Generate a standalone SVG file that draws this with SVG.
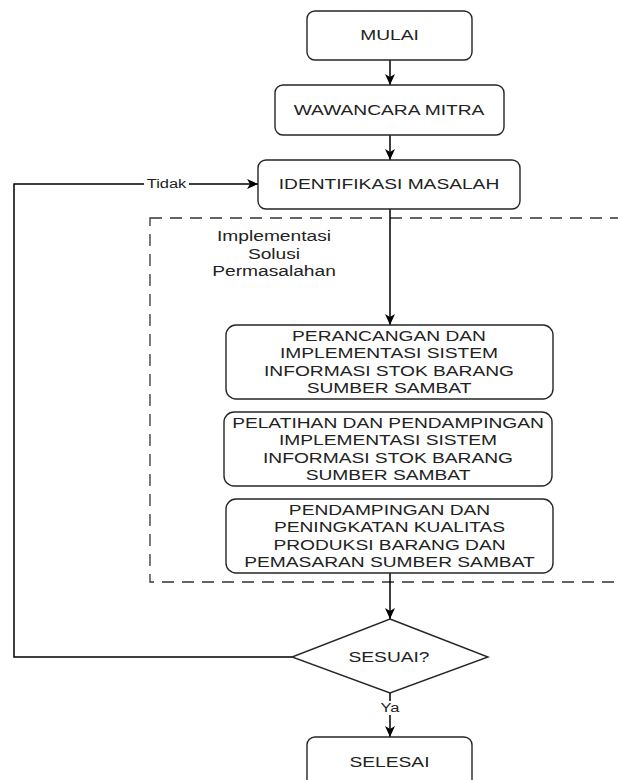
<svg xmlns="http://www.w3.org/2000/svg" width="618" height="780" viewBox="0 0 618 780">
<style>
.box{fill:#fff;stroke:#262626;stroke-width:1.4}
.t{font-family:"Liberation Sans",Arial,sans-serif;font-size:14px;fill:#222;text-anchor:middle}
.lbl{font-family:"Liberation Sans",Arial,sans-serif;font-size:12px;fill:#222;text-anchor:middle}
.con{fill:none;stroke:#000;stroke-width:1.5}
.grp{fill:none;stroke:#333;stroke-width:1.3;stroke-dasharray:12 8}
</style>
<defs>
<marker id="ah" viewBox="0 0 11 10" refX="11" refY="5" markerWidth="11" markerHeight="10" markerUnits="userSpaceOnUse" orient="auto">
<path d="M0,0 L11,5 L0,10 L3,5 Z" fill="#000"/>
</marker>
</defs>
<rect width="618" height="780" fill="#fff"/>

<g id="group-implementasi">
<rect class="grp" x="150" y="218" width="490" height="364"/>
<text class="t" transform="matrix(1.37 0 0 1 274 0)" x="0" y="241.5">Implementasi</text>
<text class="t" transform="matrix(1.37 0 0 1 274 0)" x="0" y="259">Solusi</text>
<text class="t" transform="matrix(1.37 0 0 1 274 0)" x="0" y="276.5">Permasalahan</text>
</g>

<g id="connectors">
<path class="con" d="M390,60 V85" marker-end="url(#ah)"/>
<path class="con" d="M390,135 V160" marker-end="url(#ah)"/>
<path class="con" d="M390,209 V325" marker-end="url(#ah)"/>
<path class="con" d="M390,573 V619" marker-end="url(#ah)"/>
<path class="con" d="M390,693 V737" marker-end="url(#ah)"/>
<path class="con" d="M292,657 H14 V184 H258" marker-end="url(#ah)"/>
<g id="label-tidak">
<rect x="144" y="177" width="45" height="14" fill="#fff"/>
<text class="lbl" transform="matrix(1.37 0 0 1 166.5 0)" x="0" y="188.3">Tidak</text>
</g>
<g id="label-ya">
<rect x="381" y="701" width="18" height="14" fill="#fff"/>
<text class="lbl" transform="matrix(1.37 0 0 1 390 0)" x="0" y="712">Ya</text>
</g>
</g>

<g id="mulai">
<rect class="box" x="307" y="11" width="165" height="49" rx="8"/>
<text class="t" transform="matrix(1.37 0 0 1 389.5 0)" x="0" y="40.5">MULAI</text>
</g>

<g id="wawancara">
<rect class="box" x="275" y="85" width="229" height="50" rx="8"/>
<text class="t" transform="matrix(1.37 0 0 1 389 0)" x="0" y="115">WAWANCARA MITRA</text>
</g>

<g id="identifikasi">
<rect class="box" x="258" y="160" width="262" height="49" rx="8"/>
<text class="t" transform="matrix(1.37 0 0 1 389 0)" x="0" y="189.5">IDENTIFIKASI MASALAH</text>
</g>

<g id="perancangan">
<rect class="box" x="226" y="325" width="327" height="74" rx="10"/>
<text class="t" transform="matrix(1.37 0 0 1 389 0)" x="0" y="340.6">PERANCANGAN DAN</text>
<text class="t" transform="matrix(1.37 0 0 1 389 0)" x="0" y="358.2">IMPLEMENTASI SISTEM</text>
<text class="t" transform="matrix(1.37 0 0 1 389 0)" x="0" y="375.8">INFORMASI STOK BARANG</text>
<text class="t" transform="matrix(1.37 0 0 1 389 0)" x="0" y="393.4">SUMBER SAMBAT</text>
</g>

<g id="pelatihan">
<rect class="box" x="224" y="412" width="328" height="74" rx="10"/>
<text class="t" transform="matrix(1.37 0 0 1 388 0)" x="0" y="427.6">PELATIHAN DAN PENDAMPINGAN</text>
<text class="t" transform="matrix(1.37 0 0 1 388 0)" x="0" y="445.2">IMPLEMENTASI SISTEM</text>
<text class="t" transform="matrix(1.37 0 0 1 388 0)" x="0" y="462.8">INFORMASI STOK BARANG</text>
<text class="t" transform="matrix(1.37 0 0 1 388 0)" x="0" y="480.4">SUMBER SAMBAT</text>
</g>

<g id="pendampingan">
<rect class="box" x="226" y="499" width="327" height="74" rx="10"/>
<text class="t" transform="matrix(1.37 0 0 1 389.5 0)" x="0" y="514.6">PENDAMPINGAN DAN</text>
<text class="t" transform="matrix(1.37 0 0 1 389.5 0)" x="0" y="532.2">PENINGKATAN KUALITAS</text>
<text class="t" transform="matrix(1.37 0 0 1 389.5 0)" x="0" y="549.8">PRODUKSI BARANG DAN</text>
<text class="t" transform="matrix(1.37 0 0 1 389.5 0)" x="0" y="567.4">PEMASARAN SUMBER SAMBAT</text>
</g>

<g id="sesuai">
<polygon class="box" points="390,619 488,657 390,693 292,657"/>
<text class="t" transform="matrix(1.37 0 0 1 389 0)" x="0" y="662">SESUAI?</text>
</g>

<g id="selesai">
<rect class="box" x="307" y="737" width="165" height="60" rx="8"/>
<text class="t" transform="matrix(1.37 0 0 1 389.5 0)" x="0" y="767">SELESAI</text>
</g>
</svg>
